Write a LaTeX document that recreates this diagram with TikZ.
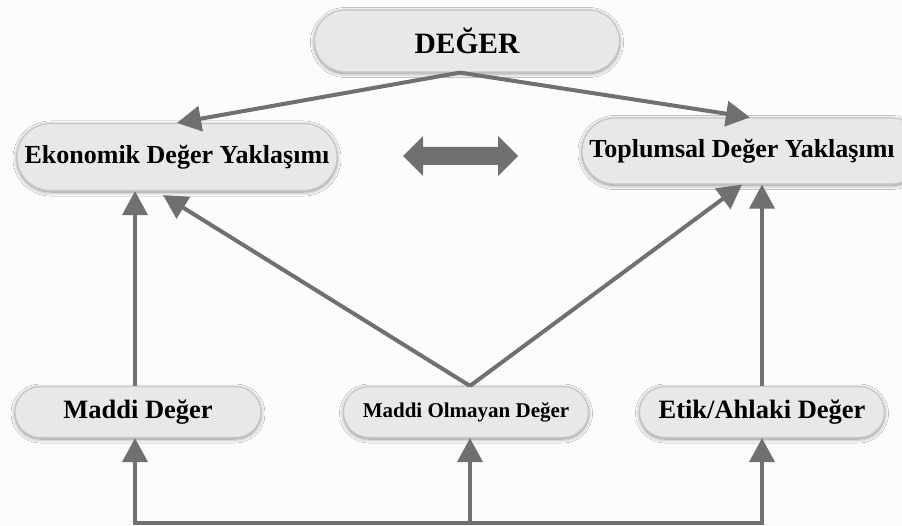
\documentclass[tikz,border=0pt]{standalone}
\usepackage{fontspec}
\setmainfont{Liberation Serif}
\usetikzlibrary{arrows.meta,shapes.misc,shadows.blur}

\definecolor{paper}{RGB}{253,252,250}
\definecolor{pillfill}{RGB}{233,231,231}
\definecolor{pilledge}{RGB}{200,198,198}
\definecolor{linkgrey}{RGB}{112,112,112}

\tikzset{
  pill/.style={rounded rectangle, fill=pillfill, draw=pilledge, line width=1.2pt,
    inner sep=0pt, font=\bfseries,
    blur shadow={shadow xshift=0pt, shadow yshift=-1.5pt, shadow blur radius=4pt,
                 shadow opacity=45, shadow blur steps=8}},
  link/.style={draw=linkgrey, line width=4pt,
    -{Triangle[width=25pt,length=24pt]}},
  rail/.style={draw=linkgrey, line width=4pt, line cap=rect}
}

\begin{document}
\begin{tikzpicture}[x=1pt,y=-1pt]
  % page and clipping frame
  \fill[paper] (0,0) rectangle (902,526);
  \clip (0,0) rectangle (902,526);

  % nodes
  \node[pill, minimum width=305pt, minimum height=62pt, font=\bfseries\fontsize{29.5}{31}\selectfont]
    (deger) at (467,41) {DEĞER};
  \node[pill, minimum width=320pt, minimum height=67pt, font=\bfseries\fontsize{26}{28}\selectfont]
    (eko) at (177,157) {Ekonomik Değer Yaklaşımı};
  % the right pill runs past the page edge; the trailing space keeps its text inside
  \node[pill, minimum width=342pt, minimum height=66pt, font=\bfseries\fontsize{26}{28}\selectfont]
    (top) at (753,151) {Toplumsal Değer Yaklaşımı\hspace*{22pt}};
  \node[pill, minimum width=246pt, minimum height=51pt, font=\bfseries\fontsize{26.5}{28}\selectfont]
    (maddi) at (138,412) {Maddi Değer};
  \node[pill, minimum width=245pt, minimum height=51pt, font=\bfseries\fontsize{21}{23}\selectfont]
    (olm) at (466,412) {Maddi Olmayan Değer};
  \node[pill, minimum width=245pt, minimum height=51pt, font=\bfseries\fontsize{26.5}{28}\selectfont]
    (etik) at (762,412) {Etik/Ahlaki Değer};

  % two-way arrow between the approaches
  \fill[linkgrey] (403,156) -- (423,136) -- (423,147) -- (498,147) -- (498,136)
    -- (518,156) -- (498,176) -- (498,165) -- (423,165) -- (423,176) -- cycle;

  % from DEĞER to the two approaches
  \coordinate (apex) at ([xshift=-7pt]deger.south);
  \draw[link] (apex) -- (eko.north);
  \draw[link] (apex) -- ([xshift=-3pt]top.north);

  % upward links into the approaches
  \draw[link] ([xshift=-3pt]maddi.north) -- ([xshift=-3pt]maddi.north |- eko.south);
  \draw[link] (etik.north) -- (etik.north |- top.south);
  \coordinate (peak) at ([xshift=4pt]olm.north);
  \draw[link] (peak) -- ([xshift=-14pt,yshift=-4pt]eko.south);
  \draw[link] (peak) -- ([xshift=-11pt]top.south);

  % bottom rail feeding the three kinds of value
  \coordinate (railL) at (135,523);
  \coordinate (railR) at (762,523);
  \draw[rail] (railL) -- (railR);
  \draw[link] (railL) -- (railL |- maddi.south);
  \draw[link] (olm.south |- railL) ++(4pt,0) coordinate (railM) -- (railM |- olm.south);
  \draw[link] (railR) -- (railR |- etik.south);
\end{tikzpicture}
\end{document}
